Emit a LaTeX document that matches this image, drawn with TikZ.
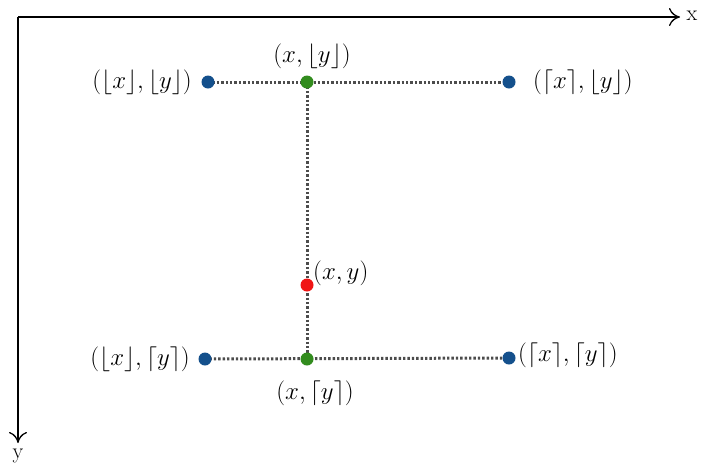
\documentclass[tikz,border=0pt]{standalone}
\usetikzlibrary{arrows.meta}
\begin{document}
\begin{tikzpicture}[x=1pt,y=-1pt,
  axis/.style={line width=1.3pt,-{To[length=11pt,width=18pt]}},
  dotline/.style={line width=3pt,dash pattern=on 2.4pt off 2pt,color=black!70},
  bdot/.style={circle,fill=blue!55!black!90,inner sep=0pt,minimum size=13pt},
  gdot/.style={circle,fill=green!50!black,inner sep=0pt,minimum size=13pt},
  rdot/.style={circle,fill=red,inner sep=0pt,minimum size=13pt},
  lbl/.style={font=\fontsize{23}{27}\selectfont,inner sep=1pt},
  axlbl/.style={font=\fontsize{22}{26}\selectfont,inner sep=0pt}]
\useasboundingbox (0,0) rectangle (701,472);
\coordinate (O) at (18,17);
\coordinate (xe) at (680,17);
\coordinate (ye) at (18,443);
\draw[axis] (O) -- (xe);
\draw[axis] (O) -- (ye);
\node[axlbl] (xl) at (692,16) {x};
\node[axlbl] (yl) at (18,456) {y};
\definecolor{bd}{RGB}{20,80,140}
\definecolor{gd}{RGB}{50,140,30}
\definecolor{rd}{RGB}{240,20,20}
\draw[dotline] (208,82) -- (509,82);
\draw[dotline] (205,359) -- (509,358);
\draw[dotline] (307,82) -- (307,359);
\node[bdot,fill=bd] (tl) at (208,82) {};
\node[gdot,fill=gd] (tm) at (307,82) {};
\node[bdot,fill=bd] (tr) at (509,82) {};
\node[rdot,fill=rd] (p) at (307,285) {};
\node[bdot,fill=bd] (bl) at (205,359) {};
\node[gdot,fill=gd] (bm) at (307,359) {};
\node[bdot,fill=bd] (br) at (509,358) {};
\node[lbl,anchor=east] (ltl) at (193,82) {$(\lfloor x\rfloor,\lfloor y\rfloor)$};
\node[lbl] (ltm) at (312,56) {$(x,\lfloor y\rfloor)$};
\node[lbl,anchor=west] (ltr) at (532,82) {$(\lceil x\rceil,\lfloor y\rfloor)$};
\node[lbl,anchor=west] (lp) at (312,273) {$(x,y)$};
\node[lbl,anchor=east] (lbl1) at (191,359) {$(\lfloor x\rfloor,\lceil y\rceil)$};
\node[lbl] (lbm) at (315,393) {$(x,\lceil y\rceil)$};
\node[lbl,anchor=west] (lbr) at (517,355) {$(\lceil x\rceil,\lceil y\rceil)$};
\end{tikzpicture}
\end{document}
